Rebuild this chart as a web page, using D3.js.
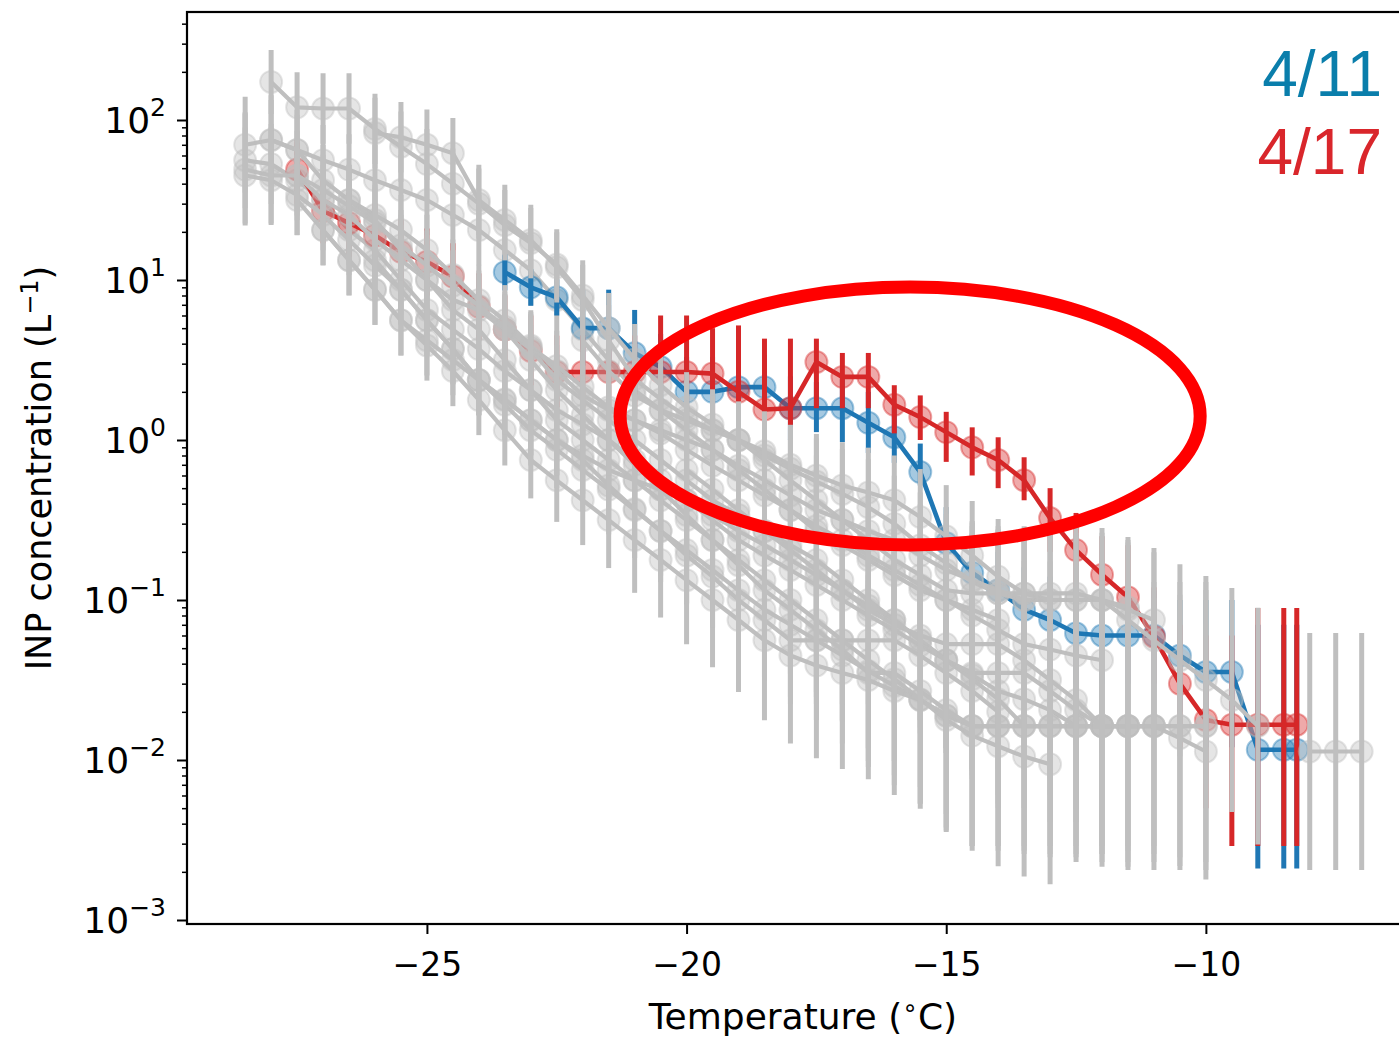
<!DOCTYPE html>
<html>
<head>
<meta charset="utf-8">
<script src="https://cdn.jsdelivr.net/npm/d3@7"></script>
<style>
  html, body { margin: 0; padding: 0; background: #ffffff; }
  svg { display: block; }
</style>
</head>
<body>
<svg id="chart" width="1399" height="1037"></svg>
<script>
// ---------------- DATA ----------------
// Temperature step (°C) of the gray measurement series, and the first temperature of each series
const tempStep = 0.5;
const grayStarts = [-28, -28.5, -28.5, -28.5, -28, -26, -28.5, -27.5, -26.5, -27, -26, -27.5, -23.5, -20, -22, -8];

// INP concentration (L^-1) of the gray series
const grayValues = [
  [173, 120, 118, 118, 88, 68, 53, 40, 30, 22, 17, 12.5, 8, 5, 3.2, 2.2, 1.6, 1.25, 1.0, 0.8, 0.66, 0.55, 0.46, 0.38, 0.3, 0.22, 0.17, 0.13, 0.11, 0.1],
  [70, 75, 65, 56, 49, 42, 36.5, 31.6, 25.5, 20.5, 15.4, 11.5, 7.5, 4.9, 3.16, 2.05, 1.54, 1.15, 0.87, 0.65, 0.49, 0.365, 0.27, 0.22, 0.178, 0.143, 0.115, 0.1, 0.087, 0.075],
  [56, 53, 42, 31.6, 20.5, 15.4, 10, 6.5, 4.9, 3.7, 2.7, 2.05, 1.54, 1.25, 1.0, 0.75, 0.56, 0.42, 0.316, 0.237, 0.19, 0.154, 0.124, 0.1, 0.08, 0.065, 0.052, 0.042, 0.034, 0.027, 0.024, 0.0205, 0.0163, 0.0163],
  [49, 45, 45, 31.6, 25.5, 17.8, 13.3, 10, 7.5, 6.5, 4.9, 3.7, 2.37, 1.78, 1.33, 1.0, 0.75, 0.56, 0.42, 0.34, 0.27, 0.22, 0.178, 0.133, 0.1, 0.075, 0.056, 0.042, 0.032, 0.024, 0.0163, 0.0163, 0.0163, 0.0163, 0.0163, 0.0163, 0.0163, 0.0163],
  [75, 65, 42, 31.6, 25.5, 20.5, 15.4, 10.8, 7.5, 5.6, 3.9, 2.7, 1.9, 1.54, 1.33, 1.15, 1.0, 0.87, 0.69, 0.56, 0.45, 0.365, 0.316, 0.27, 0.237, 0.19, 0.154, 0.133, 0.115, 0.1, 0.1, 0.1, 0.1, 0.087, 0.075],
  [83, 78, 70, 62, 31.6, 23.7, 17.8, 12, 7.5, 4.2, 2.4, 1.8, 1.4, 1.15, 1.0, 0.85, 0.7, 0.6, 0.52, 0.47, 0.42, 0.33, 0.25, 0.19, 0.14, 0.11, 0.1, 0.1, 0.1, 0.09],
  [45, 42, 34, 25.5, 17.8, 12.3, 8.7, 5.6, 3.7, 2.37, 1.66, 1.15, 0.87, 0.65, 0.49, 0.365, 0.27, 0.205, 0.154, 0.115, 0.087, 0.07, 0.056, 0.045, 0.036, 0.029, 0.0237, 0.019, 0.0163, 0.0163],
  [31.6, 20.5, 13.3, 8.7, 5.6, 4.2, 3.16, 2.37, 1.78, 1.33, 1.0, 0.8, 0.65, 0.56, 0.49, 0.42, 0.34, 0.27, 0.22, 0.178, 0.143, 0.115, 0.092, 0.075, 0.056, 0.042, 0.035, 0.035, 0.035, 0.027, 0.0205, 0.0163, 0.0163, 0.0163, 0.0137, 0.0113],
  [31.6, 23.7, 15.4, 10, 6.5, 4.9, 3.16, 2.05, 1.33, 1.0, 0.75, 0.56, 0.42, 0.316, 0.237, 0.178, 0.133, 0.1, 0.075, 0.056, 0.042, 0.032, 0.024, 0.0178, 0.0142, 0.0122, 0.0105, 0.0094],
  [20.5, 13.3, 8.7, 5.6, 3.9, 2.7, 1.78, 1.15, 0.75, 0.56, 0.42, 0.316, 0.237, 0.178, 0.133, 0.1, 0.075, 0.056, 0.045, 0.039, 0.035, 0.0316, 0.027, 0.0237, 0.019, 0.0163, 0.0163, 0.0163, 0.0163, 0.0163, 0.0163, 0.0163],
  [13.3, 8.7, 5.6, 3.7, 2.37, 1.8, 1.33, 1.0, 0.75, 0.52, 0.37, 0.27, 0.19, 0.14, 0.1, 0.075, 0.056, 0.056, 0.056, 0.056, 0.056, 0.045, 0.035, 0.027, 0.02],
  [45, 36.5, 29, 22.7, 16.5, 12.3, 9.2, 6.9, 5.1, 3.8, 2.9, 2.15, 1.6, 1.33, 1.1, 0.87, 0.69, 0.56, 0.45, 0.365, 0.29, 0.237, 0.19, 0.154, 0.124, 0.1, 0.08, 0.065, 0.053, 0.049, 0.045, 0.042],
  [4.9, 3.16, 2.05, 1.43, 1.0, 0.7, 0.49, 0.34, 0.237, 0.165, 0.115, 0.087, 0.065, 0.049, 0.035, 0.035, 0.027, 0.0205, 0.0163, 0.0163, 0.0163, 0.0163, 0.0163, 0.0163, 0.0163, 0.0163],
  [0.65, 0.49, 0.365, 0.27, 0.205, 0.154, 0.115, 0.087, 0.07, 0.06, 0.053, 0.053, 0.053, 0.042, 0.0316, 0.0237, 0.0163, 0.0163, 0.0163, 0.0163, 0.0163],
  [4.2, 2.7, 1.9, 1.54, 1.33, 1.15, 1.0, 0.75, 0.56, 0.42, 0.316, 0.237, 0.178, 0.143, 0.115, 0.11, 0.11, 0.11, 0.11, 0.11, 0.1, 0.075, 0.056, 0.042, 0.0316, 0.0237, 0.0163],
  [0.0113, 0.0113, 0.0113]
];

// Half-length of each gray error bar, in decades
const grayErrors = [
  [0.2,0.22,0.22,0.22,0.22,0.22,0.22,0.22,0.22,0.22,0.22,0.22,0.22,0.22,0.22,0.22,0.22,0.22,0.24,0.25,0.26,0.27,0.28,0.3,0.3,0.33,0.35,0.38,0.4,0.42],
  [0.3,0.28,0.25,0.22,0.22,0.22,0.22,0.22,0.22,0.22,0.22,0.22,0.22,0.22,0.22,0.22,0.22,0.22,0.24,0.26,0.28,0.3,0.32,0.34,0.35,0.38,0.4,0.42,0.45,0.48],
  [0.3,0.25,0.22,0.22,0.22,0.22,0.22,0.22,0.22,0.22,0.22,0.22,0.22,0.22,0.22,0.24,0.26,0.28,0.3,0.33,0.35,0.38,0.4,0.42,0.45,0.5,0.55,0.58,0.6,0.65,0.68,0.7,0.75,0.8],
  [0.35,0.3,0.28,0.25,0.22,0.22,0.22,0.22,0.22,0.22,0.22,0.22,0.22,0.22,0.22,0.22,0.24,0.26,0.28,0.28,0.3,0.32,0.34,0.36,0.4,0.45,0.5,0.55,0.6,0.65,0.75,0.75,0.8,0.8,0.85,0.85,0.9,0.9],
  [0.25,0.22,0.22,0.22,0.22,0.22,0.22,0.22,0.22,0.22,0.22,0.22,0.22,0.22,0.22,0.22,0.22,0.23,0.24,0.25,0.26,0.28,0.28,0.3,0.3,0.32,0.35,0.36,0.38,0.4,0.4,0.4,0.4,0.42,0.45],
  [0.22,0.22,0.22,0.22,0.22,0.22,0.22,0.22,0.22,0.22,0.22,0.22,0.22,0.23,0.24,0.25,0.25,0.26,0.27,0.28,0.28,0.3,0.32,0.34,0.36,0.4,0.42,0.42,0.42,0.44],
  [0.3,0.28,0.25,0.22,0.22,0.22,0.22,0.22,0.22,0.22,0.22,0.22,0.24,0.26,0.28,0.3,0.32,0.34,0.36,0.4,0.42,0.45,0.5,0.55,0.6,0.62,0.65,0.7,0.75,0.75],
  [0.22,0.22,0.22,0.22,0.22,0.22,0.22,0.22,0.22,0.22,0.22,0.24,0.25,0.26,0.27,0.28,0.3,0.32,0.34,0.36,0.38,0.4,0.42,0.45,0.5,0.55,0.6,0.6,0.6,0.65,0.7,0.75,0.75,0.75,0.8,0.8],
  [0.22,0.22,0.22,0.22,0.22,0.22,0.22,0.22,0.22,0.22,0.24,0.26,0.28,0.3,0.33,0.36,0.4,0.42,0.45,0.5,0.55,0.6,0.65,0.7,0.72,0.75,0.75,0.75],
  [0.22,0.22,0.22,0.22,0.22,0.22,0.22,0.22,0.24,0.26,0.28,0.3,0.33,0.36,0.4,0.42,0.45,0.5,0.55,0.58,0.6,0.62,0.65,0.68,0.72,0.75,0.78,0.8,0.82,0.85,0.88,0.9],
  [0.22,0.22,0.22,0.22,0.22,0.22,0.22,0.22,0.24,0.25,0.26,0.28,0.3,0.32,0.35,0.38,0.4,0.4,0.4,0.4,0.4,0.45,0.5,0.55,0.6],
  [0.22,0.22,0.22,0.22,0.22,0.22,0.22,0.22,0.22,0.22,0.22,0.22,0.22,0.23,0.24,0.25,0.26,0.28,0.3,0.32,0.34,0.36,0.38,0.4,0.42,0.45,0.48,0.5,0.52,0.55,0.56,0.58],
  [0.22,0.22,0.22,0.22,0.22,0.24,0.26,0.28,0.3,0.33,0.36,0.4,0.42,0.45,0.55,0.55,0.6,0.65,0.75,0.75,0.78,0.8,0.82,0.85,0.88,0.9],
  [0.24,0.26,0.28,0.3,0.32,0.35,0.38,0.4,0.42,0.45,0.48,0.48,0.48,0.55,0.62,0.68,0.75,0.78,0.8,0.82,0.85],
  [0.22,0.22,0.22,0.22,0.22,0.22,0.22,0.24,0.26,0.28,0.3,0.32,0.35,0.38,0.4,0.42,0.42,0.42,0.42,0.42,0.45,0.5,0.55,0.6,0.65,0.7,0.74],
  [0.74,0.74,0.74]
];

// 4/11 (blue)
const blueTemps  = [-23.5,-23,-22.5,-22,-21.5,-21,-20.5,-20,-19.5,-19,-18.5,-18,-17.5,-17,-16.5,-16,-15.5,-15,-14.5,-14,-13.5,-13,-12.5,-12,-11.5,-11,-10.5,-10,-9.5,-9,-8.5,-8.25];
const blueValues = [11.2,9.0,7.8,5.0,5.0,3.5,2.86,2.0,2.0,2.14,2.14,1.58,1.58,1.58,1.28,1.04,0.63,0.227,0.148,0.115,0.087,0.075,0.062,0.06,0.06,0.06,0.045,0.0355,0.0355,0.0116,0.0116,0.0116];
const blueLow    = [8.6,6.9,6.0,2.9,2.9,2.0,1.65,1.15,1.12,1.3,1.3,1.0,1.12,0.97,0.83,0.72,0.52,0.13,0.08,0.06,0.045,0.038,0.03,0.03,0.03,0.03,0.02,0.012,0.012,0.0021,0.0021,0.0021];
const blueHigh   = [14.5,11.7,10.1,8.7,8.7,6.5,4.6,3.3,3.3,3.4,3.4,2.5,2.3,2.4,2.0,1.6,0.95,0.38,0.26,0.2,0.16,0.14,0.12,0.115,0.115,0.115,0.1,0.1,0.1,0.07,0.07,0.07];

// 4/17 (red)
const redTemps  = [-27.5,-27,-26.5,-26,-25.5,-25,-24.5,-24,-23.5,-23,-22.5,-22,-21.5,-21,-20.5,-20,-19.5,-19,-18.5,-18,-17.5,-17,-16.5,-16,-15.5,-15,-14.5,-14,-13.5,-13,-12.5,-12,-11.5,-11,-10.5,-10,-9.5,-9,-8.5,-8.25];
const redValues = [49,27,22.7,19,15,13,10.5,6.8,4.9,3.6,2.66,2.66,2.66,2.66,2.66,2.66,2.6,2.0,1.55,1.58,3.07,2.48,2.48,1.66,1.39,1.12,0.9,0.75,0.56,0.325,0.205,0.144,0.104,0.059,0.03,0.0178,0.0166,0.0166,0.0166,0.0166];
const redLow    = [30,17,14,12,9.5,8,6.5,4.2,3.0,2.2,1.6,1.6,1.6,1.6,1.97,1.33,1.12,1.3,1.1,1.24,1.58,1.58,1.58,1.1,1.0,0.73,0.6,0.5,0.42,0.2,0.12,0.08,0.05,0.03,0.012,0.005,0.0029,0.0029,0.0029,0.0029];
const redHigh   = [75,42,35,30,24,21,17,11,8,6,4.5,4.5,4.5,4.5,6.0,6.0,5.0,5.2,4.3,4.3,4.3,3.5,3.5,2.2,1.9,1.5,1.2,1.04,0.78,0.5,0.35,0.25,0.22,0.12,0.07,0.06,0.06,0.089,0.089,0.089];

// Axes ticks and labels
const xTicks = [-25, -20, -15, -10];
const yTickExponents = [2, 1, 0, -1, -2, -3];
const xLabel = "Temperature (";
const yLabel = "INP concentration (L";
const legendLabels = ["4/11", "4/17"];
// Highlight ellipse bounds in data units (temperature, concentration)
const ellipseTemps = [-21.28, -10.11];
const ellipseValues = [0.221, 9.04];

// ---------------- DRAWING ----------------
const svg = d3.select("#chart");
svg.append("rect").attr("width", 1399).attr("height", 1037).attr("fill", "#fff");

const plot = { left: 187, right: 1418.8, top: 12, bottom: 924 };
const x = d3.scaleLinear().domain([-29.62, -5.9]).range([plot.left, plot.right]);
const y = d3.scaleLog().domain([Math.pow(10, -3.025), Math.pow(10, 2.675)]).range([plot.bottom, plot.top]);

const GRAY = "#bfbfbf", BLUE = "#1f77b4", RED = "#d62728";

svg.append("defs").append("clipPath").attr("id", "clip")
  .append("rect").attr("x", plot.left).attr("y", plot.top)
  .attr("width", plot.right - plot.left).attr("height", plot.bottom - plot.top);

const layer = svg.append("g").attr("clip-path", "url(#clip)");
const line = d3.line().x(d => x(d.t)).y(d => y(d.v));

function drawSeries(pts, color, markerOpacity, lineWidth) {
  const g = layer.append("g");
  g.append("path").attr("d", line(pts))
    .attr("fill", "none").attr("stroke", color)
    .attr("stroke-width", lineWidth).attr("stroke-linejoin", "round");
  g.selectAll("circle").data(pts).enter().append("circle")
    .attr("cx", d => x(d.t)).attr("cy", d => y(d.v)).attr("r", 11)
    .attr("fill", color).attr("fill-opacity", markerOpacity)
    .attr("stroke", color).attr("stroke-opacity", markerOpacity).attr("stroke-width", 2);
  g.selectAll("line.err").data(pts).enter().append("line").attr("class", "err")
    .attr("x1", d => x(d.t)).attr("x2", d => x(d.t))
    .attr("y1", d => y(d.lo)).attr("y2", d => y(d.hi))
    .attr("stroke", color).attr("stroke-width", 5);
}

function grayPoints(i) {
  return grayValues[i].map((v, k) => {
    const e = Math.pow(10, grayErrors[i][k]);
    return { t: grayStarts[i] + k * tempStep, v: v, lo: v / e, hi: v * e };
  });
}
const bluePts = blueTemps.map((t, k) => ({ t: t, v: blueValues[k], lo: blueLow[k], hi: blueHigh[k] }));
const redPts = redTemps.map((t, k) => ({ t: t, v: redValues[k], lo: redLow[k], hi: redHigh[k] }));

// drawing order: a few gray, blue, red, then the remaining gray series
[1, 2].forEach(i => drawSeries(grayPoints(i), GRAY, 0.4, 4.2));
drawSeries(bluePts, BLUE, 0.4, 4.6);
drawSeries(redPts, RED, 0.4, 4.6);
[0, 3, 4, 5, 6, 7, 8, 9, 10, 11, 12, 13, 14, 15].forEach(i => drawSeries(grayPoints(i), GRAY, 0.4, 4.2));

// Highlight ellipse
const ex0 = x(ellipseTemps[0]), ex1 = x(ellipseTemps[1]);
const ey0 = y(ellipseValues[1]), ey1 = y(ellipseValues[0]);
svg.append("ellipse")
  .attr("cx", (ex0 + ex1) / 2).attr("cy", (ey0 + ey1) / 2)
  .attr("rx", (ex1 - ex0) / 2).attr("ry", (ey1 - ey0) / 2)
  .attr("fill", "none").attr("stroke", "#ff0000").attr("stroke-width", 13);

// Axes
const FONT = "DejaVu Sans, sans-serif";
const xAxis = svg.append("g").attr("transform", `translate(0,${plot.bottom})`)
  .call(d3.axisBottom(x).tickValues(xTicks).tickSize(10).tickPadding(19).tickFormat(d3.format("d")));
xAxis.select(".domain").remove();
xAxis.selectAll(".tick line").attr("stroke", "#000").attr("stroke-width", 2);
xAxis.selectAll(".tick text").attr("font-family", FONT).attr("font-size", 33).attr("fill", "#000");

// y major ticks
const yMajor = yTickExponents.map(e => Math.pow(10, e));
const yAxis = svg.append("g").attr("transform", `translate(${plot.left},0)`)
  .call(d3.axisLeft(y).tickValues(yMajor).tickSize(10).tickFormat(""));
yAxis.select(".domain").remove();
yAxis.selectAll(".tick line").attr("stroke", "#000").attr("stroke-width", 2);
// y minor ticks
const yMinor = y.ticks().filter(v => Math.abs(Math.log10(v) - Math.round(Math.log10(v))) > 1e-6);
const yAxisMinor = svg.append("g").attr("transform", `translate(${plot.left},0)`)
  .call(d3.axisLeft(y).tickValues(yMinor).tickSize(5).tickFormat(""));
yAxisMinor.select(".domain").remove();
yAxisMinor.selectAll(".tick line").attr("stroke", "#000").attr("stroke-width", 1.5);

// y tick labels 10^n
yTickExponents.forEach(e => {
  const t = svg.append("text").attr("x", 166).attr("y", y(Math.pow(10, e)) + 13)
    .attr("text-anchor", "end").attr("font-family", FONT).attr("font-size", 36).attr("fill", "#000");
  t.append("tspan").text("10");
  t.append("tspan").attr("dy", -17).attr("font-size", 25).text(e < 0 ? "\u2212" + Math.abs(e) : String(e));
});

// Spines
const spines = svg.append("g").attr("stroke", "#000").attr("stroke-width", 2.2).attr("fill", "none");
spines.append("rect").attr("x", plot.left).attr("y", plot.top)
  .attr("width", plot.right - plot.left).attr("height", plot.bottom - plot.top);

// Axis labels
const xl = svg.append("text").attr("x", (plot.left + plot.right) / 2).attr("y", 1029)
  .attr("text-anchor", "middle").attr("font-family", FONT).attr("font-size", 36).attr("fill", "#000");
xl.append("tspan").text(xLabel);
xl.append("tspan").attr("dy", -13).attr("font-size", 25).text("\u2218");
xl.append("tspan").attr("dy", 13).text("C)");

const yl = svg.append("text")
  .attr("transform", `translate(51,${(plot.top + plot.bottom) / 2}) rotate(-90)`)
  .attr("text-anchor", "middle").attr("font-family", FONT).attr("font-size", 35).attr("fill", "#000");
yl.append("tspan").text(yLabel);
yl.append("tspan").attr("dy", -13).attr("font-size", 24).text("\u22121");
yl.append("tspan").attr("dy", 13).text(")");

// Legend labels
const legendColors = ["#0a7eab", "#d9262b"];
legendLabels.forEach((lab, i) => {
  svg.append("text").attr("x", 1382).attr("y", 96 + i * 78)
    .attr("text-anchor", "end").attr("font-family", "Liberation Sans, Arial, sans-serif")
    .attr("font-size", 64).attr("fill", legendColors[i]).text(lab);
});
</script>
</body>
</html>
